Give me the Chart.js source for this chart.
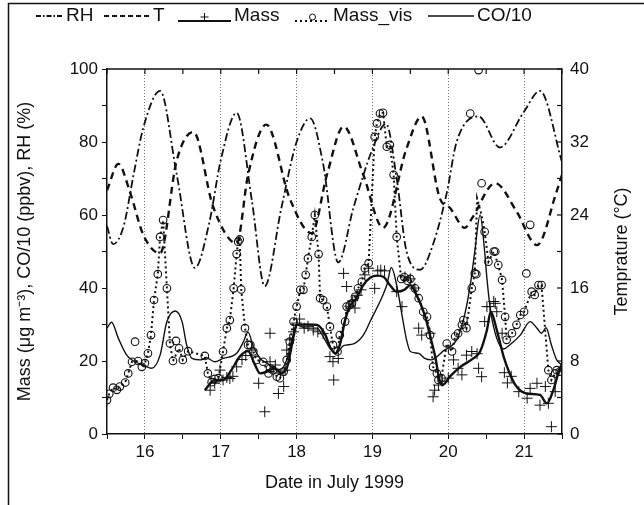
<!DOCTYPE html>
<html>
<head>
<meta charset="utf-8">
<script src="https://cdn.jsdelivr.net/npm/chart.js@4.4.0/dist/chart.umd.min.js"></script>
<style>
  html, body { margin: 0; padding: 0; background: #fff; }
  #wrap { width: 644px; height: 505px; }
</style>
</head>
<body>
<div id="wrap"><canvas id="july_graph" width="644" height="505"></canvas></div>
<script>
// [day in July, value] pairs
var rhPoints = [[15.5,57],[15.58,52],[15.72,57],[15.85,71],[15.98,84],[16.2,94],[16.42,71],[16.66,45.5],[16.85,58],[17.0,75],
  [17.21,88],[17.41,64],[17.58,40.5],[17.8,62],[18.0,80],[18.18,86.5],[18.35,74],[18.55,47],[18.75,62],[19.0,78],[19.18,85],
  [19.32,70],[19.45,50],[19.63,45],[19.8,52],[19.98,66],[20.11,80],[20.4,87],[20.68,78.5],[20.99,88],[21.21,94],[21.5,74.5]];

// temperature in degC (right axis)
var tPoints = [[15.5,26.7],[15.65,29.6],[15.8,26.6],[15.98,21.8],[16.2,19.8],[16.42,30],[16.64,33.1],[16.9,24.9],[17.21,20.9],
  [17.36,28.4],[17.6,33.9],[17.91,25.8],[18.2,22],[18.4,28.4],[18.62,33.7],[18.88,28.4],[19.14,22.6],[19.45,31.3],[19.65,34.8],
  [19.89,25.8],[20.02,24.8],[20.22,22.6],[20.31,23.6],[20.62,27.5],[20.9,24.4],[21.17,20.7],[21.43,26.6],[21.5,28.4]];

var coPoints = [[15.5,29],[15.56,30.6],[15.65,26.2],[15.76,21.6],[15.85,20],[15.98,18.9],[16.09,18],[16.2,21.6],[16.29,30.8],
  [16.4,33.7],[16.49,30.8],[16.55,24.4],[16.62,20.7],[16.73,20.3],[16.81,20.9],[16.92,19.8],[17.03,20.7],[17.21,22.1],[17.3,25.3],
  [17.36,27.9],[17.43,23.9],[17.52,20.7],[17.61,19.4],[17.7,18],[17.78,17.7],[17.87,20.3],[17.94,26],[18.0,29.9],[18.13,29],
  [18.27,29],[18.35,26.7],[18.44,23.5],[18.52,22.1],[18.62,24.2],[18.75,24.7],[18.88,27.1],[18.99,31.7],[19.1,36.3],[19.19,40.8],
  [19.25,45.6],[19.32,40.8],[19.39,32.6],[19.45,25.8],[19.5,22.6],[19.61,22.1],[19.69,20.7],[19.78,20.3],[19.85,21.2],[19.93,22.7],
  [20.11,25.8],[20.2,31.2],[20.29,40.8],[20.35,50],[20.42,60],[20.48,50],[20.51,42.6],[20.56,33.5],[20.64,26.2],[20.73,23.3],
  [20.81,24.4],[20.95,27.1],[21.08,30.8],[21.17,29],[21.23,27.6],[21.29,29.1],[21.36,24.4],[21.43,20.3],[21.5,18.9]];

// smoothed Mass line
var massLine = [[16.79,12],[16.92,14.8],[17.03,14.8],[17.14,17.5],[17.25,21.2],[17.36,22.7],[17.45,19],[17.52,16.6],[17.6,17],
  [17.7,18],[17.8,16.8],[17.87,18],[17.96,26.7],[18.0,29.9],[18.11,30],[18.27,29.9],[18.38,27.1],[18.44,23.9],[18.51,22.1],
  [18.57,24.4],[18.64,31.2],[18.7,34.9],[18.79,37.2],[18.88,40.8],[18.97,42.8],[19.06,43.4],[19.15,43],[19.23,40.8],[19.32,39],
  [19.42,39.5],[19.5,40.8],[19.56,39],[19.69,32.6],[19.76,27],[19.83,21],[19.89,14.3],[19.93,13.5],[20.02,15.7],[20.16,18.4],
  [20.33,20.7],[20.42,22.6],[20.51,28.5],[20.56,33.5],[20.64,28.5],[20.73,21.2],[20.81,16.6],[20.9,13],[21.03,11.1],[21.21,10.7],
  [21.3,8.4],[21.39,12.3],[21.47,18],[21.5,19]];

// Mass raw samples (+)
var massPts = [[16.86,12],[16.92,13.9],[16.99,17.5],[17.03,14.8],[17.08,15.5],[17.12,15.2],[17.16,15.8],[17.21,18.4],[17.28,20.4],
  [17.33,21.5],[17.41,23],[17.5,13.9],[17.58,6.1],[17.65,27.6],[17.65,19.8],[17.72,18.9],[17.76,11.1],[17.83,13],[17.85,17.5],
  [17.87,23],[17.91,25.8],[17.96,28],[18.0,30.4],[18.04,31.5],[18.1,29],[18.15,29.5],[18.22,28.5],[18.28,28],[18.35,27.5],
  [18.44,21.2],[18.48,19.8],[18.49,14.8],[18.55,20.7],[18.62,44],[18.66,40.4],[18.7,35],[18.74,36.5],[18.77,34.5],[18.8,38],
  [18.85,39.5],[18.9,43.6],[18.95,45.4],[19.03,39.9],[19.07,44.7],[19.11,44.9],[19.16,44.7],[19.32,39],[19.39,34.9],[19.43,43],
  [19.5,42.5],[19.56,40],[19.61,29],[19.65,27.1],[19.76,27.6],[19.8,10.2],[19.82,12],[19.87,13.4],[19.92,14.5],[20.0,15.3],
  [20.07,20.3],[20.13,18],[20.18,16.2],[20.24,21.6],[20.31,22.6],[20.38,22],[20.4,18],[20.44,15.7],[20.48,30.8],[20.51,34.9],
  [20.55,34.9],[20.6,36.3],[20.62,35.8],[20.64,33.5],[20.71,27.6],[20.74,16.8],[20.78,14],[20.83,15.8],[20.93,11.6],[21.04,9.8],
  [21.08,12.5],[21.17,13.9],[21.21,7.9],[21.28,13],[21.32,8.4],[21.36,2],[21.41,11.6]];

// Mass_vis samples (o)
var massVisPts = [[15.5,9.3],[15.53,11],[15.58,12.7],[15.63,12.1],[15.67,13],[15.74,14.1],[15.78,16.6],[15.83,19.8],[15.87,25.3],
  [15.91,20],[15.96,18.4],[16.0,19.4],[16.04,22.1],[16.08,27.1],[16.12,36.7],[16.17,43.8],[16.2,54],[16.24,58.6],[16.29,39.9],
  [16.33,24.8],[16.37,20],[16.41,25.5],[16.45,23.5],[16.5,20.3],[16.57,22.7],[16.79,21.4],[16.83,16.6],[16.88,14.2],[16.92,15.1],
  [16.97,15.3],[17.03,22.6],[17.08,29],[17.12,31.2],[17.17,39.9],[17.21,49.3],[17.23,52.7],[17.25,53.3],[17.27,39.6],[17.32,29],
  [17.36,24.4],[17.39,24.4],[17.43,22.6],[17.47,20.3],[17.56,19.8],[17.63,16.6],[17.65,18],[17.69,17.5],[17.74,15.7],[17.78,15.3],
  [17.83,17.1],[17.87,20.3],[17.91,25.3],[17.96,30.8],[18.0,34.9],[18.05,39.5],[18.09,39.5],[18.12,43.6],[18.15,48.1],[18.2,54],
  [18.24,60],[18.29,49.3],[18.31,37.2],[18.35,36.7],[18.4,34.9],[18.44,29.4],[18.48,24.4],[18.54,22.6],[18.57,27.1],[18.64,30.8],
  [18.66,34.9],[18.7,35.3],[18.73,35.8],[18.77,37.6],[18.81,39.9],[18.86,41.7],[18.9,45.4],[18.95,46.8],[19.03,81.4],[19.06,85.1],
  [19.1,87.8],[19.14,88],[19.19,78.7],[19.23,79.2],[19.28,71],[19.32,54],[19.38,42.5],[19.42,43],[19.46,42],[19.5,42.5],
  [19.56,39.9],[19.61,37.2],[19.67,33.5],[19.72,32.1],[19.76,27.1],[19.8,18.4],[19.85,16.6],[19.87,14.8],[19.91,15.3],[19.98,24.8],
  [20.05,22.6],[20.09,26.7],[20.13,27.6],[20.18,29.9],[20.2,31.2],[20.24,29],[20.29,87.8],[20.31,39.9],[20.35,44],[20.37,43.8],
  [20.4,99.7],[20.44,68.7],[20.48,55.4],[20.53,47.2],[20.6,50],[20.62,50],[20.66,46.3],[20.71,42.2],[20.75,32.1],[20.77,25.8],
  [20.84,27.6],[20.9,29.9],[20.95,32.6],[21.0,33.5],[21.03,44],[21.08,57.3],[21.1,39],[21.14,38.1],[21.19,40.8],[21.23,40.8],
  [21.32,17.5],[21.36,14.8],[21.41,16.6],[21.43,17.5],[21.47,17.1]];

// path of the dotted Mass_vis line
var massVisLine = [[15.5,9.3],[15.53,11],[15.58,12.7],[15.63,12.1],[15.67,13],[15.74,14.1],[15.78,16.6],[15.83,19.8],[15.91,20],
  [15.96,18.4],[16.0,19.4],[16.04,22.1],[16.08,27.1],[16.12,36.7],[16.17,43.8],[16.2,54],[16.24,58.6],[16.29,39.9],[16.33,24.8],
  [16.37,20],[16.45,23.5],[16.5,20.3],[16.57,22.7],[16.79,21.4],[16.83,16.6],[16.88,14.2],[16.92,15.1],[16.97,15.3],[17.03,22.6],
  [17.08,29],[17.12,31.2],[17.17,39.9],[17.21,49.3],[17.23,52.7],[17.25,53.3],[17.27,39.6],[17.32,29],[17.36,24.4],[17.43,22.6],
  [17.47,20.3],[17.56,19.8],[17.63,16.6],[17.69,17.5],[17.74,15.7],[17.78,15.3],[17.83,17.1],[17.87,20.3],[17.91,25.3],[17.96,30.8],
  [18.0,34.9],[18.05,39.5],[18.09,39.5],[18.12,43.6],[18.15,48.1],[18.2,54],[18.24,60],[18.29,49.3],[18.31,37.2],[18.35,36.7],
  [18.4,34.9],[18.44,29.4],[18.48,24.4],[18.54,22.6],[18.57,27.1],[18.64,30.8],[18.66,34.9],[18.73,35.8],[18.77,37.6],[18.81,39.9],
  [18.86,41.7],[18.9,45.4],[18.95,46.8],[19.03,81.4],[19.06,85.1],[19.1,87.8],[19.14,88],[19.19,78.7],[19.23,79.2],[19.28,71],
  [19.32,54],[19.38,42.5],[19.46,42],[19.5,42.5],[19.56,39.9],[19.61,37.2],[19.67,33.5],[19.72,32.1],[19.76,27.1],[19.8,18.4],
  [19.85,16.6],[19.87,14.8],[19.91,15.3],[19.98,24.8],[20.05,22.6],[20.09,26.7],[20.13,27.6],[20.18,29.9],[20.2,31.2],[20.24,29],
  [20.31,39.9],[20.35,44],[20.38,64.6],[20.44,60],[20.48,55.4],[20.53,47.2],[20.6,50],[20.66,46.3],[20.71,42.2],[20.75,32.1],
  [20.77,25.8],[20.84,27.6],[20.9,29.9],[20.95,32.6],[21.0,33.5],[21.1,39],[21.14,38.1],[21.19,40.8],[21.23,40.8],[21.32,17.5],
  [21.36,14.8],[21.41,16.6],[21.47,17.1]];

var ink = '#111';
var fontFamily = '"Liberation Sans", Arial, sans-serif';
var rightTitle = 'Temprature (\u00b0C)';

function toXY(pairs) {
  return pairs.map(function (p) { return { x: p[0], y: p[1] }; });
}

// frame, inward ticks on top/right, right title and the legend row
var decorPlugin = {
  id: 'decor',
  beforeDraw: function (chart) {
    var ctx = chart.ctx;
    ctx.save();
    ctx.fillStyle = '#fff';
    ctx.fillRect(0, 0, chart.width, chart.height);
    ctx.strokeStyle = ink;
    ctx.lineWidth = 1.5;
    ctx.beginPath();
    ctx.moveTo(8.5, chart.height);
    ctx.lineTo(8.5, 3.5);
    ctx.lineTo(chart.width, 3.5);
    ctx.stroke();
    ctx.restore();
  },
  afterDraw: function (chart) {
    var ctx = chart.ctx;
    var area = chart.chartArea;
    var xs = chart.scales.x;
    var y1 = chart.scales.y1;
    ctx.save();
    ctx.strokeStyle = ink;
    ctx.lineWidth = 1.5;
    ctx.beginPath();
    ctx.moveTo(area.left, area.top);
    ctx.lineTo(area.right, area.top);
    ctx.stroke();
    ctx.lineWidth = 1.2;
    xs.ticks.forEach(function (t) {
      var px = xs.getPixelForValue(t.value);
      ctx.beginPath();
      ctx.moveTo(px, area.top);
      ctx.lineTo(px, area.top + 5);
      ctx.stroke();
    });
    y1.ticks.forEach(function (t) {
      var py = y1.getPixelForValue(t.value);
      ctx.beginPath();
      ctx.moveTo(area.right, py);
      ctx.lineTo(area.right - 5, py);
      ctx.stroke();
    });

    // right axis title reads bottom-to-top like the left one
    ctx.save();
    ctx.translate(622, (area.top + area.bottom) / 2);
    ctx.rotate(-Math.PI / 2);
    ctx.font = '18px ' + fontFamily;
    ctx.fillStyle = ink;
    ctx.textAlign = 'center';
    ctx.textBaseline = 'middle';
    ctx.fillText(rightTitle, 0, 0);
    ctx.restore();

    // legend
    var ly = 16;
    ctx.font = '19px ' + fontFamily;
    ctx.fillStyle = ink;
    ctx.textBaseline = 'middle';
    var items = [
      { x0: 36, x1: 63, dash: [5, 2, 1.5, 2], w: 1.8, label: 'RH' },
      { x0: 104, x1: 150, dash: [5, 3], w: 2, label: 'T' },
      { x0: 178, x1: 231, dash: [], w: 2, label: 'Mass', mark: 'cross' },
      { x0: 295, x1: 330, dash: [2, 3], w: 2, label: 'Mass_vis', mark: 'circle' },
      { x0: 428, x1: 474, dash: [], w: 1.5, label: 'CO/10' }
    ];
    items.forEach(function (it) {
      var lineY = it.mark ? ly + 5 : ly;
      ctx.setLineDash(it.dash);
      ctx.lineWidth = it.w;
      ctx.beginPath();
      ctx.moveTo(it.x0, lineY);
      ctx.lineTo(it.x1, lineY);
      ctx.stroke();
      ctx.setLineDash([]);
      var cx = (it.x0 + it.x1) / 2;
      ctx.lineWidth = 1;
      if (it.mark === 'cross') {
        ctx.beginPath();
        ctx.moveTo(cx - 4, ly + 1); ctx.lineTo(cx + 4, ly + 1);
        ctx.moveTo(cx, ly - 3); ctx.lineTo(cx, ly + 5);
        ctx.stroke();
      } else if (it.mark === 'circle') {
        ctx.beginPath();
        ctx.arc(cx, ly + 1, 3, 0, Math.PI * 2);
        ctx.stroke();
      }
      ctx.fillText(it.label, it.x1 + 3, ly);
    });
    ctx.restore();
  }
};

var tickFont = { family: fontFamily, size: 17 };
var titleFont = { family: fontFamily, size: 18 };

var july_graph = new Chart(document.getElementById('july_graph').getContext('2d'), {
  type: 'scatter',
  data: {
    datasets: [
      { label: 'RH', data: toXY(rhPoints), showLine: true, yAxisID: 'y', borderColor: ink, borderWidth: 1.8,
        borderDash: [8, 3, 2, 3], pointRadius: 0, cubicInterpolationMode: 'monotone', fill: false },
      { label: 'T', data: toXY(tPoints), showLine: true, yAxisID: 'y1', borderColor: ink, borderWidth: 2.4,
        borderDash: [7, 5], pointRadius: 0, cubicInterpolationMode: 'monotone', fill: false },
      { label: 'CO/10', data: toXY(coPoints), showLine: true, yAxisID: 'y', borderColor: ink, borderWidth: 1.4,
        pointRadius: 0, cubicInterpolationMode: 'monotone', fill: false },
      { label: 'Mass', data: toXY(massLine), showLine: true, yAxisID: 'y', borderColor: ink, borderWidth: 2.4,
        pointRadius: 0, cubicInterpolationMode: 'monotone', fill: false },
      { label: 'Mass samples', data: toXY(massPts), showLine: false, yAxisID: 'y', borderColor: ink, borderWidth: 1,
        pointStyle: 'cross', pointRadius: 5.5 },
      { label: 'Mass_vis', data: toXY(massVisLine), showLine: true, yAxisID: 'y', borderColor: ink, borderWidth: 2,
        borderDash: [2, 3], pointRadius: 0, tension: 0, fill: false },
      { label: 'Mass_vis samples', data: toXY(massVisPts), showLine: false, yAxisID: 'y', borderColor: ink,
        backgroundColor: 'rgba(255,255,255,0)', borderWidth: 1.1, pointStyle: 'circle', pointRadius: 3.8 }
    ]
  },
  options: {
    responsive: false,
    animation: false,
    layout: { padding: { top: 69, left: 0, right: 0, bottom: 0 } },
    plugins: { legend: { display: false }, tooltip: { enabled: false } },
    scales: {
      x: {
        type: 'linear', min: 15.5, max: 21.5,
        afterFit: function (s) { s.height = 71; },
        ticks: {
          stepSize: 0.5, autoSkip: false, maxRotation: 0, padding: 3, color: ink, font: tickFont,
          callback: function (v) { return Number.isInteger(v) ? v : ''; }
        },
        grid: {
          drawOnChartArea: true, tickLength: 5, tickColor: ink, lineWidth: 1,
          color: function (c) {
            var v = c.tick ? c.tick.value : null;
            return (v !== null && Number.isInteger(v)) ? '#777' : 'rgba(0,0,0,0)';
          }
        },
        border: { display: true, color: ink, width: 1.5, dash: [1, 2] },
        title: { display: true, text: 'Date in July 1999', color: ink, font: titleFont, padding: { top: 0, bottom: 11 } }
      },
      y: {
        position: 'left', min: 0, max: 100,
        afterFit: function (s) { s.width = 107; },
        ticks: {
          stepSize: 10, autoSkip: false, padding: 4, color: ink, font: tickFont,
          callback: function (v) { return v % 20 === 0 ? v : ''; }
        },
        grid: { drawOnChartArea: false, tickLength: 5, tickColor: ink },
        border: { display: true, color: ink, width: 1.5 },
        title: { display: true, text: 'Mass (\u03bcg m\u207b\u00b3), CO/10 (ppbv), RH (%)', color: ink, font: titleFont,
          padding: { top: 14, bottom: 0 } }
      },
      y1: {
        position: 'right', min: 0, max: 40,
        afterFit: function (s) { s.width = 82; },
        ticks: {
          stepSize: 4, autoSkip: false, padding: 8, color: ink, font: tickFont,
          callback: function (v) { return v % 8 === 0 ? v : ''; }
        },
        grid: { drawOnChartArea: false, drawTicks: false },
        border: { display: true, color: ink, width: 1.5 },
        title: { display: false }
      }
    }
  },
  plugins: [decorPlugin]
});
</script>
</body>
</html>
